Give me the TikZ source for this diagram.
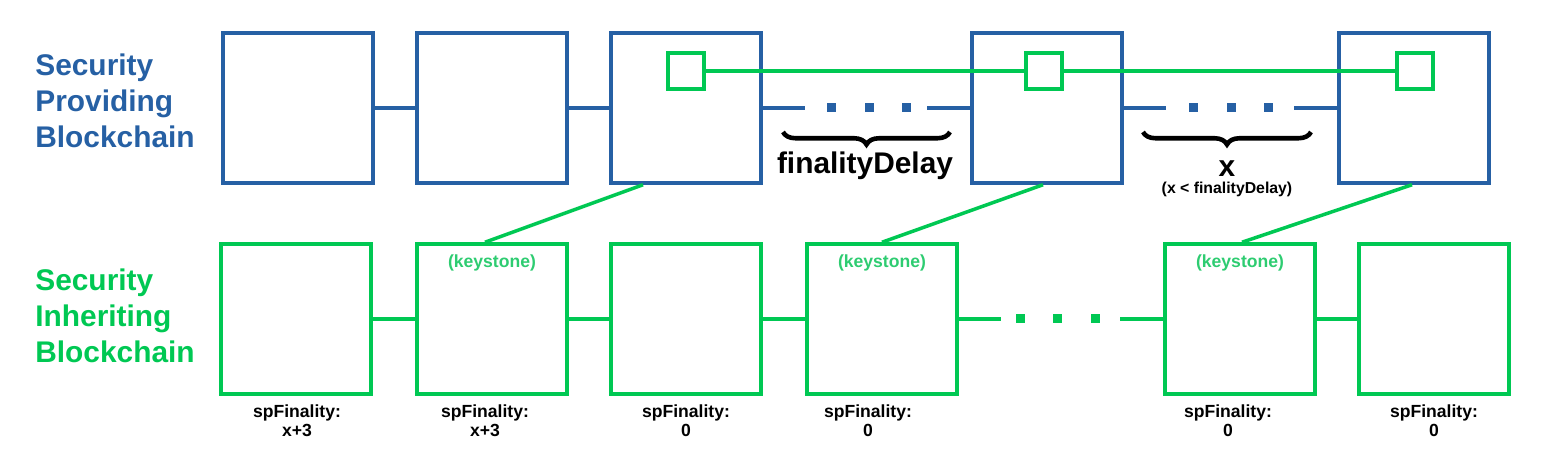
\documentclass[tikz,border=0pt]{standalone}
\usepackage{fontspec}
\setmainfont{Liberation Sans}
\usetikzlibrary{positioning,calc,decorations.pathreplacing}
\definecolor{spblue}{HTML}{2660A4}
\definecolor{sigreen}{HTML}{00C853}
\definecolor{keyg}{HTML}{2ECC71}

\begin{document}
\begin{tikzpicture}[
  spblock/.style={draw=spblue,line width=2pt,minimum size=3cm,inner sep=0pt},
  siblock/.style={draw=sigreen,line width=2pt,minimum size=3cm,inner sep=0pt},
  kbox/.style={draw=sigreen,line width=2pt,minimum size=0.72cm,inner sep=0pt,fill=white},
  dotsq/.style={fill=#1,minimum size=0.18cm,inner sep=0pt},
  splink/.style={spblue,line width=2pt},
  silink/.style={sigreen,line width=2pt},
  gapbrace/.style={decorate,decoration={brace,mirror,amplitude=0.25cm},line width=2.6pt},
  chainlabel/.style={font=\fontsize{17}{20.4}\selectfont\bfseries,align=left,anchor=west,inner sep=0pt},
  finlabel/.style={font=\fontsize{10}{11.3}\selectfont\bfseries,align=center,anchor=north,inner sep=0pt}]
\useasboundingbox (0,0) rectangle (30.82,9.38);
% chain names on the left
\node[chainlabel,text=spblue] (spname) at (0.70,7.36) {Security\\Providing\\Blockchain};
\node[chainlabel,text=sigreen] (siname) at (0.70,3.06) {Security\\Inheriting\\Blockchain};
% security providing chain
\foreach \n/\x in {1/5.96,2/9.84,3/13.72,4/20.94,5/28.28}
  \node[spblock] (p\n) at (\x,7.22) {};
\draw[splink] (p1) -- (p2);
\draw[splink] (p2) -- (p3);
\coordinate (ga1) at (16.10,7.22); \coordinate (gb1) at (18.54,7.22);
\coordinate (ga2) at (23.32,7.22); \coordinate (gb2) at (25.88,7.22);
\draw[splink] (p3) -- (ga1); \draw[splink] (gb1) -- (p4);
\draw[splink] (p4) -- (ga2); \draw[splink] (gb2) -- (p5);
\foreach \x [count=\i] in {16.62,17.38,18.12} \node[dotsq=spblue] (da\i) at (\x,7.22) {};
\foreach \x [count=\i] in {23.86,24.62,25.36} \node[dotsq=spblue] (db\i) at (\x,7.22) {};
% keystones published into the providing chain
\node[kbox] (k3) at (13.72,7.96) {};
\node[kbox] (k4) at (20.88,7.96) {};
\node[kbox] (k5) at (28.30,7.96) {};
\draw[silink] (k3) -- (k4);
\draw[silink] (k4) -- (k5);
% gaps between publications
\coordinate (bl1) at (15.66,6.74); \coordinate (br1) at (19.00,6.74);
\draw[gapbrace] (bl1) -- (br1);
\node[font=\fontsize{17}{20}\selectfont\bfseries,inner sep=0pt] (fdelay) at (17.30,6.06) {finalityDelay};
\coordinate (bl2) at (22.86,6.74); \coordinate (br2) at (26.22,6.74);
\draw[gapbrace] (bl2) -- (br2);
\node[font=\fontsize{17}{20}\selectfont\bfseries,inner sep=0pt] (xgap) at (24.54,6.00) {x};
\node[font=\fontsize{9}{10}\selectfont\bfseries,inner sep=0pt] (xnote) at (24.54,5.60) {(x < finalityDelay)};
% security inheriting chain
\foreach \n/\x in {1/5.92,2/9.84,3/13.72,4/17.64,5/24.80,6/28.68}
  \node[siblock] (s\n) at (\x,3.0) {};
\draw[silink] (s1) -- (s2);
\draw[silink] (s2) -- (s3);
\draw[silink] (s3) -- (s4);
\coordinate (ga3) at (20.02,3.0); \coordinate (gb3) at (22.40,3.0);
\draw[silink] (s4) -- (ga3); \draw[silink] (gb3) -- (s5);
\draw[silink] (s5) -- (s6);
\foreach \x [count=\i] in {20.40,21.14,21.90} \node[dotsq=sigreen] (dc\i) at (\x,3.0) {};
% keystone blocks and their links up
\foreach \n in {2,4,5}
  \node[font=\fontsize{10}{12}\selectfont\bfseries,text=keyg,inner sep=0pt] (ks\n) at ([yshift=-4.1mm]s\n.north) {(keystone)};
\draw[silink] ([xshift=-8.6mm]p3.south) -- ([xshift=-1.4mm]s2.north);
\draw[silink] ([xshift=-0.8mm]p4.south) -- (s4.north);
\draw[silink] ([xshift=-0.4mm]p5.south) -- ([xshift=0.4mm]s5.north);
% finality values
\foreach \n/\v/\dx in {1/x+3/0.02,2/x+3/-0.14,3/0/0,4/0/-0.28,5/0/-0.24,6/0/0}
  \node[finlabel] (f\n) at ($(s\n.south |- 0,1.30)+(\dx,0)$) {spFinality:\\\v};
\end{tikzpicture}
\end{document}
